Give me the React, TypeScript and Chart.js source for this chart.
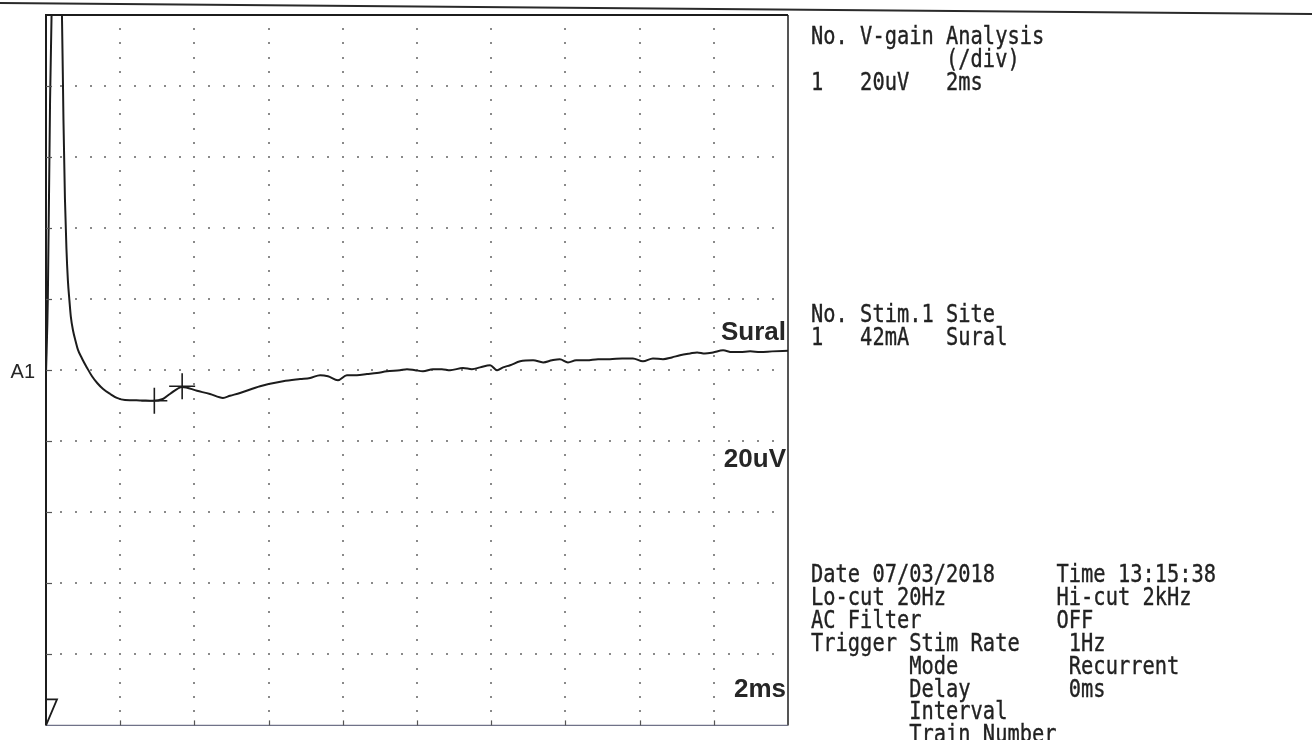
import React, { useEffect, useRef } from "react";
import { Chart, registerables } from "chart.js";

Chart.register(...registerables);

// ---- trace data (time in ms, amplitude in µV; 2 ms/div, 20 µV/div) ----
const timeMs = [
  0, 0.05, 0.11, 0.15, 0.27, 0.43, 0.47, 0.51, 0.55, 0.59, 0.63, 0.67, 0.73, 0.8, 0.86, 0.97, 1.11,
  1.24, 1.38, 1.54, 1.73, 1.91, 2.13, 2.53, 2.88, 3.15, 3.34, 3.67, 4.07, 4.42, 4.77, 4.96, 5.23,
  5.77, 6.39, 6.85, 7.12, 7.39, 7.6, 7.87, 8.11, 8.38, 8.65, 8.92, 9.19, 9.54, 9.73, 9.95, 10.16,
  10.43, 10.67, 10.89, 11.24, 11.48, 11.7, 11.97, 12.16, 12.32, 12.51, 12.78, 13.13, 13.4, 13.64,
  13.85, 14.07, 14.29, 14.58, 14.88, 15.2, 15.53, 15.82, 16.09, 16.36, 16.63, 16.87, 17.09, 17.36,
  17.55, 17.76, 17.98, 18.25, 18.49, 18.71, 18.98, 19.25, 19.57, 20.0,
];
const ampUv = [
  -1.1, 20.6, 76.3, 100, 126.5, 100, 70.8, 48.5, 34.5, 25.3, 19.8, 15.0, 11.1, 8.1, 5.8, 3.3, 0.6,
  -1.7, -3.6, -5.3, -6.7, -7.8, -8.4, -8.5, -8.6, -8.1, -6.7, -4.7, -5.8, -6.7, -7.8, -7.2, -6.4,
  -4.5, -3.1, -2.5, -2.2, -1.4, -1.7, -2.8, -1.4, -1.4, -1.1, -0.8, -0.3, 0, 0.3, 0, -0.3,
  0.3, 0.3, 0, 0.6, 0.3, 0.8, 1.4, 0, 0.8, 1.4, 2.5, 2.8, 2.2, 2.8,
  3.1, 2.2, 2.8, 2.8, 3.1, 3.1, 3.3, 3.3, 2.5, 3.3, 3.1, 3.6, 4.2, 4.7,
  5.0, 4.7, 5.0, 5.6, 5.1, 5.1, 5.3, 5.1, 5.3, 5.5,
];

// latency cursors
const cursorMs = [2.92, 3.67];
const cursorUv = [-8.6, -4.5];

// grid divisions
const xTicksMs = [0, 2, 4, 6, 8, 10, 12, 14, 16, 18, 20];
const yTicksUv = [-100, -80, -60, -40, -20, 0, 20, 40, 60, 80, 100];

// in-plot labels
const channelLabel = "A1";
const siteLabel = "Sural";
const gainLabel = "20uV";
const sweepLabel = "2ms";

// printout text blocks
const gainBlock = ["No. V-gain Analysis", "           (/div)", "1   20uV   2ms"];
const stimBlock = ["No. Stim.1 Site", "1   42mA   Sural"];
const settingsBlock = [
  "Date 07/03/2018     Time 13:15:38",
  "Lo-cut 20Hz         Hi-cut 2kHz",
  "AC Filter           OFF",
  "Trigger Stim Rate    1Hz",
  "        Mode         Recurrent",
  "        Delay        0ms",
  "        Interval",
  "        Train Number",
];

const INK = "#1c1c1c";

const decorPlugin = {
  id: "decor",
  beforeDraw(chart: any) {
    const { ctx, width, height } = chart;
    ctx.save();
    ctx.fillStyle = "#ffffff";
    ctx.fillRect(0, 0, width, height);
    // page rule of the printout
    ctx.strokeStyle = "#2a2a2a";
    ctx.lineWidth = 2;
    ctx.beginPath();
    ctx.moveTo(0, 3);
    ctx.lineTo(width, 14);
    ctx.stroke();
    ctx.restore();
  },
  beforeDatasetsDraw(chart: any) {
    const { ctx, scales } = chart;
    const x = scales.x;
    const y = scales.y;
    const sub = 5;
    const xStep = (xTicksMs[1] - xTicksMs[0]) / sub;
    const yStep = (yTicksUv[1] - yTicksUv[0]) / sub;
    const x0 = xTicksMs[0];
    const y0 = yTicksUv[0];
    ctx.save();
    ctx.fillStyle = "#8a8a8a";
    // vertical dotted lines
    for (let i = 1; i < xTicksMs.length - 1; i++) {
      const px = Math.round(x.getPixelForValue(xTicksMs[i]));
      for (let k = 1; k < (yTicksUv.length - 1) * sub; k++) {
        const py = Math.round(y.getPixelForValue(y0 + k * yStep));
        ctx.fillRect(px - 1, py - 1, 2, 2);
      }
    }
    // horizontal dotted lines
    for (let j = 1; j < yTicksUv.length - 1; j++) {
      const py = Math.round(y.getPixelForValue(yTicksUv[j]));
      for (let k = 1; k < (xTicksMs.length - 1) * sub; k++) {
        const px = Math.round(x.getPixelForValue(x0 + k * xStep));
        ctx.fillRect(px - 1, py - 1, 2, 2);
      }
    }
    ctx.restore();
  },
  afterDatasetsDraw(chart: any) {
    const { ctx, chartArea: a, scales } = chart;
    const x = scales.x;
    const y = scales.y;
    ctx.save();
    // frame
    ctx.strokeStyle = INK;
    ctx.lineWidth = 2;
    ctx.beginPath();
    ctx.moveTo(a.left, a.bottom);
    ctx.lineTo(a.left, a.top);
    ctx.lineTo(a.right, a.top);
    ctx.stroke();
    ctx.lineWidth = 1.5;
    ctx.beginPath();
    ctx.moveTo(a.right, a.top);
    ctx.lineTo(a.right, a.bottom);
    ctx.stroke();
    ctx.strokeStyle = "#6f7288";
    ctx.lineWidth = 1.2;
    ctx.beginPath();
    ctx.moveTo(a.left, a.bottom);
    ctx.lineTo(a.right, a.bottom);
    ctx.stroke();
    // small inward ticks
    ctx.strokeStyle = "#555";
    ctx.lineWidth = 1.2;
    for (let j = 1; j < yTicksUv.length - 1; j++) {
      const py = Math.round(y.getPixelForValue(yTicksUv[j])) + 0.5;
      ctx.beginPath();
      ctx.moveTo(a.left, py);
      ctx.lineTo(a.left + 6, py);
      ctx.stroke();
    }
    for (let i = 1; i < xTicksMs.length - 1; i++) {
      const px = Math.round(x.getPixelForValue(xTicksMs[i])) + 0.5;
      ctx.beginPath();
      ctx.moveTo(px, a.bottom);
      ctx.lineTo(px, a.bottom - 5);
      ctx.stroke();
    }
    // stimulus marker
    ctx.strokeStyle = INK;
    ctx.lineWidth = 1.8;
    ctx.beginPath();
    ctx.moveTo(a.left, a.bottom - 26);
    ctx.lineTo(a.left + 11, a.bottom - 26);
    ctx.lineTo(a.left, a.bottom);
    ctx.stroke();
    // labels
    ctx.fillStyle = "#262626";
    ctx.textBaseline = "alphabetic";
    ctx.textAlign = "right";
    ctx.font = '20px "Liberation Sans", Arial, sans-serif';
    ctx.fillText(channelLabel, a.left - 11, y.getPixelForValue(0) + 8);
    ctx.font = 'bold 26px "Liberation Sans", Arial, sans-serif';
    ctx.fillText(siteLabel, a.right - 2, y.getPixelForValue(8.6));
    ctx.fillText(gainLabel, a.right - 2, y.getPixelForValue(-27.3));
    ctx.fillText(sweepLabel, a.right - 2, y.getPixelForValue(-92));
    ctx.restore();
  },
};

const FONT_PX = 20.4;
const SCALE_Y = 1.21;
const LINE_PX = 18.9;

function TextBlock({ lines, left, baseline }: { lines: string[]; left: number; baseline: number }) {
  const firstBaseline = ((LINE_PX - 1.164 * FONT_PX) / 2 + 0.928 * FONT_PX) * SCALE_Y;
  return (
    <div
      style={{
        position: "absolute",
        left,
        top: baseline - firstBaseline,
        fontFamily: '"DejaVu Sans Mono", monospace',
        fontSize: FONT_PX,
        lineHeight: `${LINE_PX}px`,
        whiteSpace: "pre",
        color: "#222",
        WebkitTextStroke: "0.3px #222",
        transform: `scaleY(${SCALE_Y})`,
        transformOrigin: "0 0",
      }}
    >
      {lines.map((l, i) => (
        <div key={i}>{l}</div>
      ))}
    </div>
  );
}

export default function App() {
  const ref = useRef<HTMLCanvasElement | null>(null);

  useEffect(() => {
    if (!ref.current) return;
    const chart = new Chart(ref.current, {
      type: "line",
      data: {
        datasets: [
          {
            data: timeMs.map((t, i) => ({ x: t, y: ampUv[i] })),
            borderColor: INK,
            borderWidth: 2,
            pointRadius: 0,
            cubicInterpolationMode: "monotone",
            fill: false,
          } as any,
          {
            type: "scatter",
            data: cursorMs.map((t, i) => ({ x: t, y: cursorUv[i] })),
            pointStyle: "cross",
            pointRadius: 13,
            borderColor: INK,
            borderWidth: 1.6,
            showLine: false,
          } as any,
        ],
      },
      options: {
        responsive: false,
        animation: false,
        events: [],
        layout: { padding: { left: 46, top: 15, right: 524, bottom: 7 } },
        scales: {
          x: { type: "linear", min: xTicksMs[0], max: xTicksMs[xTicksMs.length - 1], display: false },
          y: { type: "linear", min: yTicksUv[0], max: yTicksUv[yTicksUv.length - 1], display: false },
        },
        plugins: { legend: { display: false }, tooltip: { enabled: false } },
      } as any,
      plugins: [decorPlugin],
    });
    return () => chart.destroy();
  }, []);

  return (
    <div
      style={{
        position: "absolute",
        left: 0,
        top: 0,
        width: 1312,
        height: 740,
        overflow: "hidden",
        background: "#fff",
      }}
    >
      <canvas ref={ref} width={1312} height={740} style={{ display: "block" }} />
      <TextBlock lines={gainBlock} left={811} baseline={45} />
      <TextBlock lines={stimBlock} left={811} baseline={323} />
      <TextBlock lines={settingsBlock} left={811} baseline={583} />
    </div>
  );
}
